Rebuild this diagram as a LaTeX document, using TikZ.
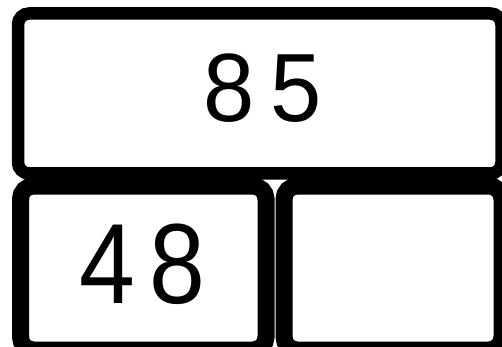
\documentclass[tikz,border=0pt]{standalone}
\usepackage{fontspec}
\usepackage{graphicx}
\setmainfont{Liberation Sans}
\tikzset{
  cell/.style={draw=black, fill=white, rounded corners=11pt},
  num/.style={inner sep=0pt, text=black}
}
\begin{document}
\begin{tikzpicture}[x=1pt,y=-1pt]
\useasboundingbox (0,0) rectangle (502,347);
\fill[white] (0,0) rectangle (502,347);
\draw[cell, line width=12.5pt] (18,13.5) rectangle (501.5,173.5);
\draw[cell, line width=17pt, rounded corners=13pt] (20.5,186) rectangle (266,350);
\draw[cell, line width=17pt, rounded corners=13pt] (284,186) rectangle (502,350);
\node[num] (top) at (262.5,88) {\scalebox{0.95}[1]{\fontsize{97}{97}\selectfont 8\kern17pt 5}};
\node[num] (left) at (142.5,264) {\scalebox{0.88}[1]{\fontsize{114}{114}\selectfont 4\kern16pt 8}};
\node[num] (right) at (392,264) {};
\end{tikzpicture}
\end{document}
